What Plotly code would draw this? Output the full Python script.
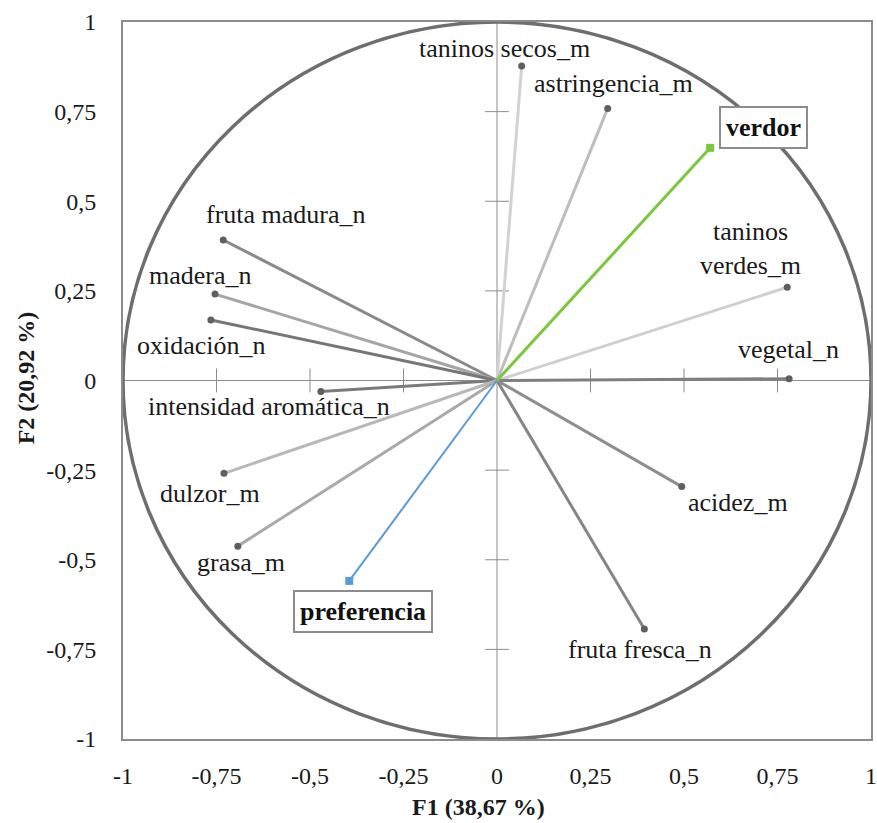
import plotly.graph_objects as go

# ---- data ----
variables = ["taninos secos_m", "astringencia_m", "taninos verdes_m", "vegetal_n",
             "acidez_m", "fruta fresca_n", "fruta madura_n", "madera_n",
             "oxidación_n", "intensidad aromática_n", "dulzor_m", "grasa_m"]
f1_vals = [0.066, 0.296, 0.776, 0.781, 0.494, 0.394, -0.732, -0.754, -0.765, -0.471, -0.730, -0.693]
f2_vals = [0.877, 0.759, 0.260, 0.005, -0.296, -0.693, 0.392, 0.241, 0.169, -0.031, -0.259, -0.462]

sup_names = ["verdor", "preferencia"]
sup_f1 = [0.570, -0.395]
sup_f2 = [0.649, -0.559]

tick_vals = [-1, -0.75, -0.5, -0.25, 0, 0.25, 0.5, 0.75, 1]
tick_text = ["-1", "-0,75", "-0,5", "-0,25", "0", "0,25", "0,5", "0,75", "1"]

x_title = "F1 (38,67 %)"
y_title = "F2 (20,92 %)"

# ---- styles ----
line_colors = ["#d2d2d2", "#bdbdbd", "#cfcfcf", "#7f7f7f", "#8e8e8e", "#858585",
               "#8a8a8a", "#a5a5a5", "#767676", "#7b7b7b", "#b8b8b8", "#a9a9a9"]
label_text = ["taninos secos_m", "astringencia_m", "taninos<br>verdes_m", "vegetal_n",
              "acidez_m", "fruta fresca_n", "fruta madura_n", "madera_n",
              "oxidación_n", "intensidad aromática_n", "dulzor_m", "grasa_m"]
label_shift = [(-17, 18), (6, 25), (-37, 39), (-1, 29), (56, -16), (-4, -21),
               (63, 25), (-15, 19), (-9, -26), (-52, -15), (-14, -20), (3, -16)]
sup_colors = ["#7cc83c", "#5b9bd5"]
sup_shift = [(53, 20), (14, -31)]

FONT = "Times New Roman"
GRID = "#8c8c8c"
TXT = "#1a1a1a"

fig = go.Figure()

# zero axes with crossing ticks
fig.add_shape(type="line", x0=-1, x1=1, y0=0, y1=0, line=dict(color=GRID, width=1), layer="below")
fig.add_shape(type="line", x0=0, x1=0, y0=-1, y1=1, line=dict(color=GRID, width=1), layer="below")
inner = [v for v in tick_vals if v not in (-1, 0, 1)]
fig.add_trace(go.Scatter(x=inner, y=[0] * len(inner), mode="markers",
                         marker=dict(symbol="line-ns", size=17, line=dict(color=GRID, width=1)),
                         hoverinfo="skip", showlegend=False))
fig.add_trace(go.Scatter(x=[0] * len(inner), y=inner, mode="markers",
                         marker=dict(symbol="line-ew", size=17, line=dict(color=GRID, width=1)),
                         hoverinfo="skip", showlegend=False))

# correlation circle
fig.add_shape(type="circle", x0=-1, y0=-1, x1=1, y1=1, line=dict(color="#6e6e6e", width=3.5))

# variable vectors
for i, name in enumerate(variables):
    fig.add_trace(go.Scatter(x=[0, f1_vals[i]], y=[0, f2_vals[i]], mode="lines",
                             line=dict(color=line_colors[i], width=3),
                             hoverinfo="skip", showlegend=False))
fig.add_trace(go.Scatter(x=f1_vals, y=f2_vals, mode="markers", text=variables,
                         marker=dict(symbol="circle", size=7, color="#5f5f5f"),
                         showlegend=False))

for i, name in enumerate(sup_names):
    fig.add_trace(go.Scatter(x=[0, sup_f1[i]], y=[0, sup_f2[i]], mode="lines",
                             line=dict(color=sup_colors[i], width=3 if i == 0 else 2),
                             hoverinfo="skip", showlegend=False))
    fig.add_trace(go.Scatter(x=[sup_f1[i]], y=[sup_f2[i]], mode="markers",
                             marker=dict(symbol="square", size=8, color=sup_colors[i]),
                             name=name, showlegend=False))

annotations = []
for i in range(len(variables)):
    annotations.append(dict(x=f1_vals[i], y=f2_vals[i], text=label_text[i], showarrow=False,
                            xshift=label_shift[i][0], yshift=label_shift[i][1],
                            font=dict(family=FONT, size=26, color=TXT)))
for i in range(len(sup_names)):
    annotations.append(dict(x=sup_f1[i], y=sup_f2[i], text="<b>" + sup_names[i] + "</b>",
                            showarrow=False, xshift=sup_shift[i][0], yshift=sup_shift[i][1],
                            font=dict(family=FONT, size=26, color="#111111"),
                            bgcolor="white", bordercolor=GRID, borderwidth=2, borderpad=5))
# axis titles
annotations.append(dict(xref="paper", yref="paper", x=0.4746, y=0, yshift=-68,
                        xanchor="center", yanchor="middle", showarrow=False,
                        text="<b>" + x_title + "</b>", font=dict(family=FONT, size=24, color=TXT)))
annotations.append(dict(xref="paper", yref="paper", x=0, y=0.503, xshift=-97,
                        xanchor="center", yanchor="middle", showarrow=False, textangle=-90,
                        text="<b>" + y_title + "</b>", font=dict(family=FONT, size=24, color=TXT)))
fig.update_layout(annotations=annotations)

axis_common = dict(range=[-1, 1], tickvals=tick_vals, ticktext=tick_text,
                   showgrid=False, zeroline=False, showline=True, mirror=True,
                   linecolor=GRID, linewidth=2, ticks="", automargin=False,
                   tickfont=dict(family=FONT, size=24, color=TXT))

fig.update_xaxes(**axis_common, ticklabelstandoff=14)
fig.update_yaxes(**axis_common, ticklabelstandoff=20)

fig.update_layout(width=877, height=823, plot_bgcolor="white", paper_bgcolor="white",
                  font=dict(family=FONT),
                  margin=dict(l=123, r=6, t=22, b=84), showlegend=False)

fig.write_html("out.html")
